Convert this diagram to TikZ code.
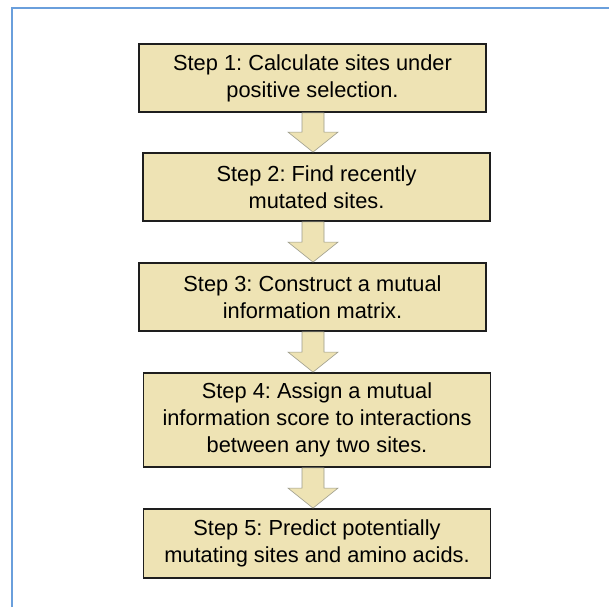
\documentclass[tikz,border=0pt]{standalone}
\usepackage{fontspec}
\setmainfont{Liberation Sans}
\usepackage{tikz}
\usetikzlibrary{calc}
\usepackage{xcolor}
\definecolor{stepFill}{HTML}{EEE3B4}
\definecolor{stepLine}{HTML}{1E1E1E}
\definecolor{frameColor}{HTML}{6A9FDC}
\definecolor{arrowLine}{HTML}{9A9A8A}
\frenchspacing

\newcommand{\stepArrow}[2]{%
  \filldraw[flowarrow] let \p1=(#1.south), \p2=(#2.north) in
    (313-11,\y1) -- (313+11,\y1) -- (313+11,\y2+20) -- (313+25,\y2+20)
    -- (313,\y2) -- (313-25,\y2+20) -- (313-11,\y2+20) -- cycle;}

\begin{document}
\begin{tikzpicture}[
    x=1pt, y=-1pt,
    stepbox/.style={rectangle, draw=stepLine, fill=stepFill, line width=1.8pt, minimum width=347pt, minimum height=68pt, inner sep=0pt, align=center, font=\fontsize{21.8}{27}\selectfont},
    flowarrow/.style={draw=arrowLine, fill=stepFill, line width=0.6pt, line join=miter},
    frame/.style={draw=frameColor, line width=2pt},
  ]
  \useasboundingbox (0,0) rectangle (609,607);

  % Frame
  \draw[frame] (11.5,607) -- (11.5,8) -- (609,8);

  % Nodes
  \node[stepbox] (s1) at (312.5, 78)  {Step 1: Calculate sites under\\positive selection.};
  \node[stepbox] (s2) at (316.5, 187) {Step 2: Find recently\\mutated sites.};
  \node[stepbox] (s3) at (312.5, 297) {Step 3: Construct a mutual\\information matrix.};
  \node[stepbox, minimum height=94pt] (s4) at (317, 420) {Step 4: Assign a mutual\\information score to interactions\\between any two sites.};
  \node[stepbox, minimum height=69pt] (s5) at (317, 543.5) {Step 5: Predict potentially\\mutating sites and amino acids.};

  % Arrows
  \stepArrow{s1}{s2}
  \stepArrow{s2}{s3}
  \stepArrow{s3}{s4}
  \stepArrow{s4}{s5}

\end{tikzpicture}
\end{document}
